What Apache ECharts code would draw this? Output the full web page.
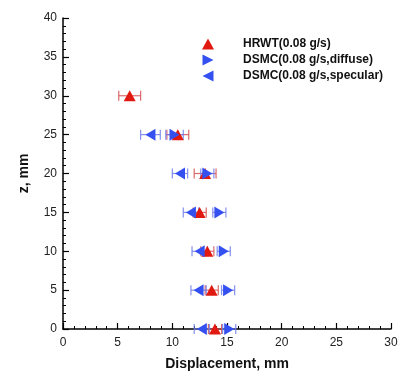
<!DOCTYPE html>
<html>
<head>
<meta charset="utf-8">
<script src="https://cdn.jsdelivr.net/npm/echarts@6/dist/echarts.min.js"></script>
<style>
  html, body { margin: 0; padding: 0; background: #fff; }
  #chart { width: 401px; height: 376px; }
</style>
</head>
<body>
<div id="chart"></div>
<script>
// z positions (mm)
const hrwtZ = [0, 5, 10, 15, 20, 25, 30];
const dsmcZ = [0, 5, 10, 15, 20, 25];

// displacement (mm) and half error widths
const hrwtX = [13.9, 13.6, 13.2, 12.5, 13.0, 10.5, 6.1];
const hrwtErr = [0.6, 0.6, 0.6, 0.6, 1.0, 1.0, 1.0];
const diffuseX = [15.2, 15.1, 14.7, 14.3, 13.2, 10.2];
const diffuseErr = [0.6, 0.6, 0.6, 0.6, 0.6, 0.8];
const specularX = [12.7, 12.4, 12.5, 11.7, 10.7, 8.0];
const specularErr = [0.7, 0.7, 0.7, 0.7, 0.7, 0.9];

const names = ['HRWT(0.08 g/s)', 'DSMC(0.08 g/s,diffuse)', 'DSMC(0.08 g/s,specular)'];
const RED = '#e01a10';
const BLUE = '#3550f0';
const TRI_RIGHT = 'path://M0,0 L10,5 L0,10 Z';
const TRI_LEFT = 'path://M10,0 L0,5 L10,10 Z';

const pts = (xs, zs) => xs.map((x, i) => [x, zs[i]]);
const errs = (xs, es, zs) => xs.map((x, i) => [x, zs[i], es[i]]);

function errorBar(color) {
  return function (params, api) {
    const y = api.value(1);
    const e = api.value(2);
    const x = api.value(0);
    const a = api.coord([x - e, y]);
    const b = api.coord([x + e, y]);
    const style = { stroke: color, lineWidth: 1.2 };
    return {
      type: 'group',
      children: [
        { type: 'line', shape: { x1: a[0], y1: a[1], x2: b[0], y2: b[1] }, style: style },
        { type: 'line', shape: { x1: a[0], y1: a[1] - 5, x2: a[0], y2: a[1] + 5 }, style: style },
        { type: 'line', shape: { x1: b[0], y1: b[1] - 5, x2: b[0], y2: b[1] + 5 }, style: style }
      ]
    };
  };
}

const axisCommon = {
  axisLine: { lineStyle: { color: '#000', width: 1.5 } },
  axisTick: { inside: true, length: 6, lineStyle: { color: '#000', width: 1.2 } },
  minorTick: { show: true, splitNumber: 5, length: 3, lineStyle: { color: '#000', width: 1 } },
  splitLine: { show: false },
  axisLabel: { color: '#222', fontSize: 12, fontFamily: 'Liberation Sans' },
  nameLocation: 'middle',
  nameTextStyle: { color: '#111', fontSize: 14, fontWeight: 'bold', fontFamily: 'Liberation Sans' }
};

const chart = echarts.init(document.getElementById('chart'));
chart.setOption({
  animation: false,
  grid: { left: 63, right: 10, top: 18, bottom: 46 },
  legend: {
    orient: 'vertical',
    left: 197,
    top: 33,
    itemWidth: 12,
    itemHeight: 11,
    itemGap: 4,
    data: [
      { name: names[0], icon: 'triangle', itemStyle: { color: RED } },
      { name: names[1], icon: TRI_RIGHT, itemStyle: { color: BLUE } },
      { name: names[2], icon: TRI_LEFT, itemStyle: { color: BLUE } }
    ],
    textStyle: { color: '#111', fontSize: 12, fontWeight: 'bold', fontFamily: 'Liberation Sans', padding: [0, 0, 0, 24] }
  },
  xAxis: Object.assign({}, axisCommon, {
    type: 'value', min: 0, max: 30, interval: 5,
    name: 'Displacement, mm', nameGap: 28,
    axisLabel: Object.assign({}, axisCommon.axisLabel, { margin: 8 })
  }),
  yAxis: Object.assign({}, axisCommon, {
    type: 'value', min: 0, max: 40, interval: 5,
    name: 'z, mm', nameGap: 32,
    axisLabel: Object.assign({}, axisCommon.axisLabel, { margin: 6 })
  }),
  series: [
    { type: 'custom', name: names[0], renderItem: errorBar('rgba(215,90,90,0.9)'), itemStyle: { color: RED }, data: errs(hrwtX, hrwtErr, hrwtZ), z: 1, silent: true },
    { type: 'custom', name: names[1], renderItem: errorBar('rgba(110,125,235,0.85)'), itemStyle: { color: BLUE }, data: errs(diffuseX, diffuseErr, dsmcZ), z: 1, silent: true },
    { type: 'custom', name: names[2], renderItem: errorBar('rgba(110,125,235,0.85)'), itemStyle: { color: BLUE }, data: errs(specularX, specularErr, dsmcZ), z: 1, silent: true },
    { type: 'scatter', name: names[0], symbol: 'triangle', symbolSize: [12, 11], itemStyle: { color: RED, opacity: 1 }, data: pts(hrwtX, hrwtZ), z: 3 },
    { type: 'scatter', name: names[1], symbol: TRI_RIGHT, symbolSize: [10, 12], itemStyle: { color: BLUE, opacity: 1 }, data: pts(diffuseX, dsmcZ), z: 4 },
    { type: 'scatter', name: names[2], symbol: TRI_LEFT, symbolSize: [10, 12], itemStyle: { color: BLUE, opacity: 1 }, data: pts(specularX, dsmcZ), z: 4 }
  ]
});
</script>
</body>
</html>
